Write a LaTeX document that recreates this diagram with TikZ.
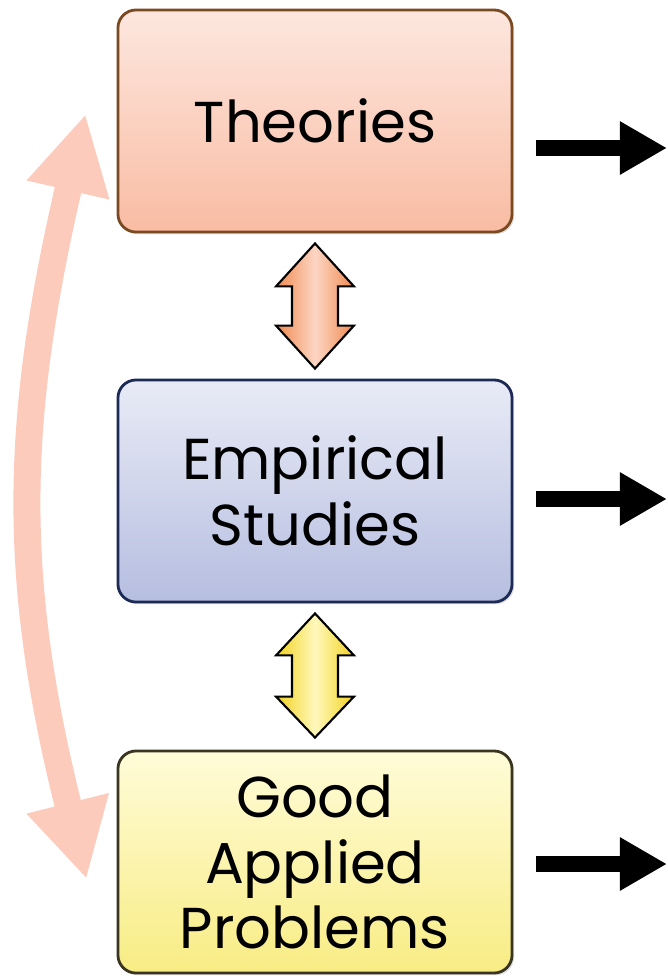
\documentclass[tikz,border=0pt]{standalone}
\usepackage{fontspec}
\setmainfont{Poppins}
\usetikzlibrary{positioning,calc,arrows.meta,shadows}

\definecolor{theotop}{HTML}{FDE7DF}
\definecolor{theobot}{HTML}{F9BCA3}
\definecolor{theoline}{HTML}{7A4A22}
\definecolor{emptop}{HTML}{E8EBF6}
\definecolor{empbot}{HTML}{B6BEE0}
\definecolor{empline}{HTML}{1C2A55}
\definecolor{goodtop}{HTML}{FFFCD8}
\definecolor{goodbot}{HTML}{F8EC84}
\definecolor{goodline}{HTML}{3A3520}
\definecolor{backcol}{HTML}{FCCBBB}
\definecolor{orangeedge}{HTML}{F08A50}
\definecolor{orangemid}{HTML}{FDD6C4}
\definecolor{yellowedge}{HTML}{F2D31E}
\definecolor{yellowmid}{HTML}{FFF8BC}

\tikzset{
  stage/.style={draw, rounded corners=0.45cm, line width=2pt,
    minimum width=9.85cm, minimum height=5.55cm, align=center,
    font=\fontsize{41}{46.5}\selectfont,
    drop shadow={opacity=0.25, shadow xshift=1.5pt, shadow yshift=-1.5pt}},
  updown/.style={draw=black, line width=1.5pt, line join=miter},
  goto/.style={line width=0.4cm, -{Triangle[width=1.25cm, length=1.175cm]}},
  backarrow/.style={backcol, line width=0.675cm,
    {Triangle[width=1.975cm, length=1.95cm]}-{Triangle[width=1.975cm, length=1.95cm]}},
}

\begin{document}
\begin{tikzpicture}[x=0.025cm, y=-0.025cm]
  \useasboundingbox (0,0) rectangle (668,976);

  % the three stages
  \node[stage, top color=theotop, bottom color=theobot, draw=theoline] at (315,121) (theo) {Theories};
  \node[stage, top color=emptop, bottom color=empbot, draw=empline] at (315,491) (emp) {Empirical\\Studies};
  \node[stage, top color=goodtop, bottom color=goodbot, draw=goodline] at (315,862) (good) {Good\\Applied\\Problems};

  % fat double arrows between the stages
  \draw[updown, left color=orangeedge, right color=orangeedge, middle color=orangemid]
    ($(theo.south)+(0,10)$) -- ($(theo.south)+(39,53)$) -- ($(theo.south)+(23,53)$)
    -- ($(emp.north)+(23,-53)$) -- ($(emp.north)+(39,-53)$) -- ($(emp.north)+(0,-10)$)
    -- ($(emp.north)+(-39,-53)$) -- ($(emp.north)+(-23,-53)$)
    -- ($(theo.south)+(-23,53)$) -- ($(theo.south)+(-39,53)$) -- cycle;
  \draw[updown, left color=yellowedge, right color=yellowedge, middle color=yellowmid]
    ($(emp.south)+(0,10)$) -- ($(emp.south)+(39,52)$) -- ($(emp.south)+(23,52)$)
    -- ($(good.north)+(23,-53)$) -- ($(good.north)+(39,-53)$) -- ($(good.north)+(0,-12)$)
    -- ($(good.north)+(-39,-53)$) -- ($(good.north)+(-23,-53)$)
    -- ($(emp.south)+(-23,52)$) -- ($(emp.south)+(-39,52)$) -- cycle;

  % long arrow on the left
  \draw[backarrow] ([shift={(-30,17)}]good.west) to[out=104, in=257, looseness=1.05] ([shift={(-31,-7)}]theo.west);

  % arrows leaving to the right
  \coordinate (out1) at (667,148);
  \coordinate (out2) at (667,499);
  \coordinate (out3) at (667,864);
  \draw[goto] ([shift={(23,27)}]theo.east) -- (out1);
  \draw[goto] ([shift={(23,8)}]emp.east) -- (out2);
  \draw[goto] ([shift={(23,2)}]good.east) -- (out3);
\end{tikzpicture}
\end{document}
